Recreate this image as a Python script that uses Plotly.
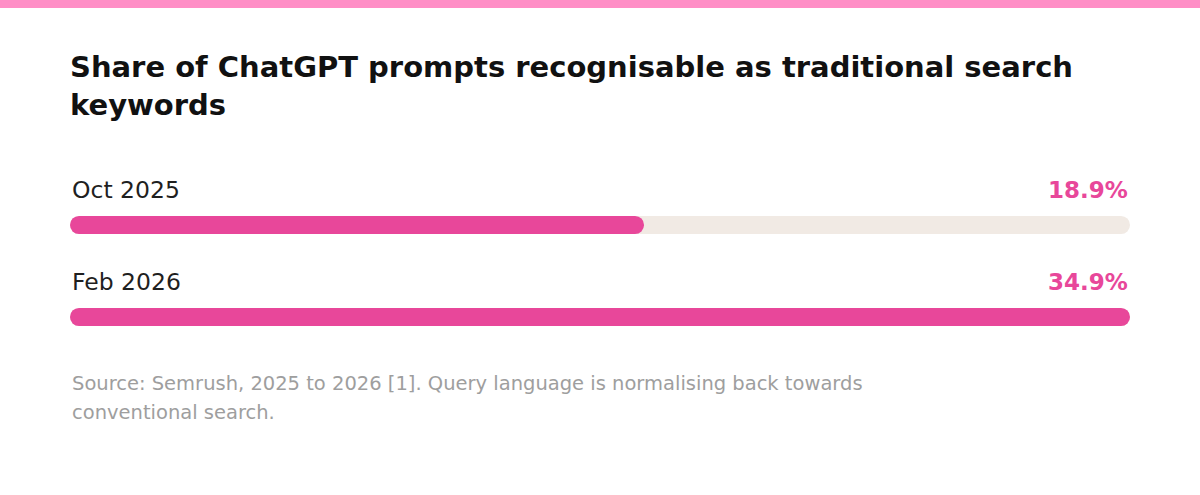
import plotly.graph_objects as go

periods = ['Oct 2025', 'Feb 2026']
shares = [18.9, 34.9]
value_labels = ['18.9%', '34.9%']
scale_max = 34.9

PINK = '#E8479A'
TRACK = '#F1EAE4'
FONT = 'DejaVu Sans'

rows = list(range(len(periods)))

fig = go.Figure()

# background track
fig.add_trace(go.Bar(y=rows, x=[scale_max] * len(rows), base=[0] * len(rows), orientation='h',
                     width=0.196, marker=dict(color=TRACK, cornerradius=9, line_width=0),
                     hoverinfo='skip', showlegend=False))
# filled part
fig.add_trace(go.Bar(y=rows, x=shares, base=[0] * len(rows), orientation='h',
                     width=0.196, marker=dict(color=PINK, cornerradius=9, line_width=0),
                     hoverinfo='skip', showlegend=False))

for r, name, lab in zip(rows, periods, value_labels):
    fig.add_annotation(x=0, y=r, xref='x', yref='y', text=name, showarrow=False,
                       xanchor='left', yanchor='middle', yshift=35,
                       font=dict(family=FONT, size=23.5, color='#1f1f1f'))
    fig.add_annotation(x=scale_max, y=r, xref='x', yref='y', text=lab, showarrow=False,
                       xanchor='right', yanchor='middle', yshift=35,
                       font=dict(family=FONT, size=23, color=PINK, weight='bold'))

fig.add_annotation(x=0, y=0.143, xref='paper', yref='paper', xanchor='left', yanchor='top',
                   align='left', showarrow=False,
                   text='Source: Semrush, 2025 to 2026 [1]. Query language is normalising back towards',
                   font=dict(family=FONT, size=19.5, color='#9e9e9e'))
fig.add_annotation(x=0, y=0.038, xref='paper', yref='paper', xanchor='left', yanchor='top',
                   align='left', showarrow=False,
                   text='conventional search.',
                   font=dict(family=FONT, size=19.5, color='#9e9e9e'))

# pink stripe at the top
fig.add_shape(type='rect', xref='paper', yref='paper', x0=-1, x1=2, y0=1.453, y1=2,
              fillcolor='#FF8EC6', line_width=0, layer='above')

fig.update_layout(
    width=1200, height=495,
    barmode='overlay',
    plot_bgcolor='white', paper_bgcolor='white',
    margin=dict(l=70, r=70, t=133, b=86),
    title=dict(text='Share of ChatGPT prompts recognisable as traditional search<br>keywords',
               x=70 / 1200, xanchor='left', y=1 - 77 / 495, yanchor='top',
               font=dict(family=FONT, size=29, color='#111111', weight='bold')),
    xaxis=dict(range=[0, scale_max], visible=False, fixedrange=True),
    yaxis=dict(range=[2, -1], visible=False, fixedrange=True),
)

fig.write_html('out.html', config={'displayModeBar': False})

# drop the default page margin so the figure sits at the window's corner
with open('out.html', encoding='utf-8') as f:
    page = f.read()
page = page.replace('<head>', '<head><style>body{margin:0;}</style>', 1)
with open('out.html', 'w', encoding='utf-8') as f:
    f.write(page)
